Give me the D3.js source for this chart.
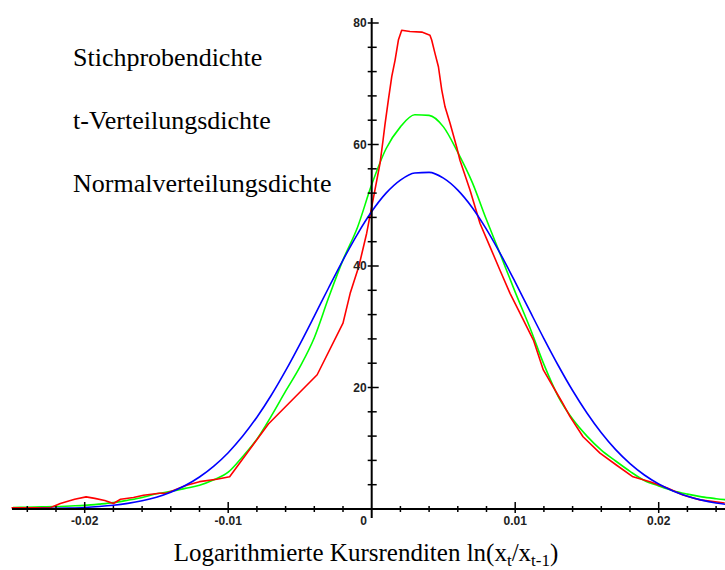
<!DOCTYPE html>
<html><head><meta charset="utf-8">
<script src="https://cdn.jsdelivr.net/npm/d3@7/dist/d3.min.js"></script>
<style>body{margin:0;background:#fff}svg{display:block}</style>
</head><body>
<svg id="c" width="725" height="570"></svg>
<script>
// ---- data ----
const xGrid = [-0.025,-0.024,-0.023,-0.022,-0.021,-0.020,-0.019,-0.018,-0.017,-0.016,
  -0.015,-0.014,-0.013,-0.012,-0.011,-0.010,-0.009,-0.008,-0.007,-0.006,
  -0.005,-0.004,-0.003,-0.002,-0.001,0.000,0.001,0.002,0.003,0.004,
  0.005,0.006,0.007,0.008,0.009,0.010,0.011,0.012,0.013,0.014,
  0.015,0.016,0.017,0.018,0.019,0.020,0.021,0.022,0.023,0.024,0.025];
const normalDensity = [0.02,0.03,0.06,0.10,0.16,0.25,0.40,0.61,0.92,1.35,
  1.95,2.77,3.86,5.27,7.06,9.27,11.96,15.11,18.72,22.77,
  27.15,31.75,36.42,40.98,45.22,48.96,51.99,54.14,55.31,55.41,
  54.46,52.49,49.63,46.02,41.86,37.35,32.68,28.05,23.62,19.50,
  15.80,12.55,9.77,7.47,5.60,4.12,2.97,2.10,1.46,0.99,0.66];
const tDensity = [0.25,0.3,0.35,0.4,0.5,0.6,0.8,1.05,1.45,1.9,
  2.5,2.9,3.4,3.9,4.8,6.05,8.6,11.5,15.3,19.4,
  23.4,28.2,34.8,41,46.3,53.4,59.3,62.9,64.9,64.8,
  62.9,58.7,53.8,47.6,41.7,35.7,30.0,23.8,18.5,14.8,
  12.0,9.7,7.9,6.2,4.7,3.8,3.0,2.45,2.0,1.7,1.45];
const sampleX = [-0.0251,-0.0224,-0.0217,-0.0207,-0.0199,-0.0193,-0.0186,-0.0180,-0.0175,-0.0166,
  -0.0159,-0.0148,-0.0143,-0.0129,-0.0120,-0.0108,-0.0099,-0.0072,-0.0038,-0.0020,
  -0.0015,-0.0009,-0.00035,0.00058,0.00079,0.00092,0.00116,0.0014,0.00163,0.00186,
  0.00209,0.00267,0.00349,0.00406,0.00418,0.00441,0.00465,0.00488,0.00511,0.00546,
  0.00592,0.00615,0.00685,0.00755,0.00824,0.00894,0.00964,0.01034,0.01127,0.01196,
  0.01324,0.01382,0.01473,0.01591,0.01707,0.01821,0.01939,0.02056,0.02169,0.02288,0.0246];
const sampleDensity = [0.2,0.2,0.9,1.6,2.0,1.75,1.4,0.9,1.6,1.9,
  2.25,2.6,2.6,3.9,4.5,4.9,5.3,14.0,22.1,30.6,
  35.5,39.9,45.4,56.9,60.7,63.2,67.3,71.2,73.9,77.2,
  78.8,78.6,78.5,78.0,77.2,75,72.8,69,66.2,63.5,
  59.6,57.4,52.5,47,43.2,39.3,35.5,32.2,27.8,22.9,
  17.7,15.2,11.9,9.2,7.2,5.3,4.5,3.5,2.3,1.5,1.0];
const xMajorTicks = [-0.02,-0.01,0.01,0.02];
const xTickLabels = ["-0.02","-0.01","0.01","0.02"];
const xMinorTicks = [-0.024,-0.022,-0.018,-0.016,-0.014,-0.012,-0.008,-0.006,-0.004,-0.002,
  0.002,0.004,0.006,0.008,0.012,0.014,0.016,0.018,0.022,0.024];
const yMajorTicks = [20,40,60,80];
const yTickLabels = ["20","40","60","80"];
const yMinorTicks = [4,8,12,16,24,28,32,36,44,48,52,56,64,68,72,76];
const legendLabels = ["Stichprobendichte","t-Verteilungsdichte","Normalverteilungsdichte"];
const seriesColors = ["#ff0000","#00ff00","#0000ff"];

// ---- layout ----
const svg = d3.select("#c");
const x0 = 371.7;
const x = d3.scaleLinear().domain([-0.025, 0.025]).range([x0 - 358.75, x0 + 358.75]);
const y = d3.scaleLinear().domain([0, 80]).range([509, 23]);

// curves
const lineSmooth = d3.line().x(d => x(d[0])).y(d => y(d[1])).curve(d3.curveMonotoneX);
const lineStraight = d3.line().x(d => x(d[0])).y(d => y(d[1]));
const gCurves = svg.append("g").attr("fill","none").attr("stroke-width",1.6).attr("stroke-linejoin","round");
gCurves.append("path").datum(xGrid.map((v,i)=>[v,tDensity[i]])).attr("d",lineSmooth).attr("stroke",seriesColors[1]);
gCurves.append("path").datum(sampleX.map((v,i)=>[v,sampleDensity[i]])).attr("d",lineStraight).attr("stroke",seriesColors[0]);
gCurves.append("path").datum(xGrid.map((v,i)=>[v,normalDensity[i]])).attr("d",lineSmooth).attr("stroke",seriesColors[2]);

// axes
const ax = svg.append("g").attr("stroke","#000");
ax.append("line").attr("x1",12).attr("x2",725).attr("y1",y(0)).attr("y2",y(0)).attr("stroke-width",2);
ax.append("line").attr("x1",x(0)).attr("x2",x(0)).attr("y1",y(80)-5).attr("y2",y(0)+9).attr("stroke-width",2);
ax.selectAll(".xmin").data(xMinorTicks).join("line")
  .attr("x1",d=>x(d)).attr("x2",d=>x(d)).attr("y1",y(0)-3).attr("y2",y(0)+3).attr("stroke-width",1.5);
ax.selectAll(".xmaj").data(xMajorTicks).join("line")
  .attr("x1",d=>x(d)).attr("x2",d=>x(d)).attr("y1",y(0)-7).attr("y2",y(0)+4).attr("stroke-width",1.5);
ax.selectAll(".ymin").data(yMinorTicks).join("line")
  .attr("x1",x(0)-4).attr("x2",x(0)+5).attr("y1",d=>y(d)).attr("y2",d=>y(d)).attr("stroke-width",1.5);
ax.selectAll(".ymaj").data(yMajorTicks).join("line")
  .attr("x1",x(0)-4).attr("x2",x(0)+7).attr("y1",d=>y(d)).attr("y2",d=>y(d)).attr("stroke-width",1.5);

const tickFont = "'Liberation Sans', Arial, sans-serif";
svg.append("g").selectAll("text").data(xMajorTicks).join("text")
  .attr("x",d=>x(d)).attr("y",y(0)+16).attr("text-anchor","middle")
  .attr("font-family",tickFont).attr("font-size",12).attr("font-weight","bold").attr("fill","#222")
  .text((d,i)=>xTickLabels[i]);
svg.append("text").attr("x",x(0)-8).attr("y",y(0)+16).attr("text-anchor","middle")
  .attr("font-family",tickFont).attr("font-size",12).attr("font-weight","bold").attr("fill","#222").text("0");
svg.append("g").selectAll("text").data(yMajorTicks).join("text")
  .attr("x",x(0)-5).attr("y",d=>y(d)+4).attr("text-anchor","end")
  .attr("font-family",tickFont).attr("font-size",12).attr("font-weight","bold").attr("fill","#222")
  .text((d,i)=>yTickLabels[i]);

// legend text
const serif = "'Liberation Serif', 'Times New Roman', serif";
svg.append("g").selectAll("text").data(legendLabels).join("text")
  .attr("x",73).attr("y",(d,i)=>66 + i*63)
  .attr("font-family",serif).attr("font-size",26).attr("fill","#000")
  .text(d=>d);

// axis title
const t = svg.append("text").attr("x",366).attr("y",561).attr("text-anchor","middle")
  .attr("font-family",serif).attr("font-size",25).attr("fill","#000");
t.append("tspan").text("Logarithmierte Kursrenditen ln(x");
t.append("tspan").attr("font-size",17).attr("dy",5).text("t");
t.append("tspan").attr("dy",-5).text("/x");
t.append("tspan").attr("font-size",17).attr("dy",5).text("t-1");
t.append("tspan").attr("dy",-5).text(")");
</script>
</body></html>
